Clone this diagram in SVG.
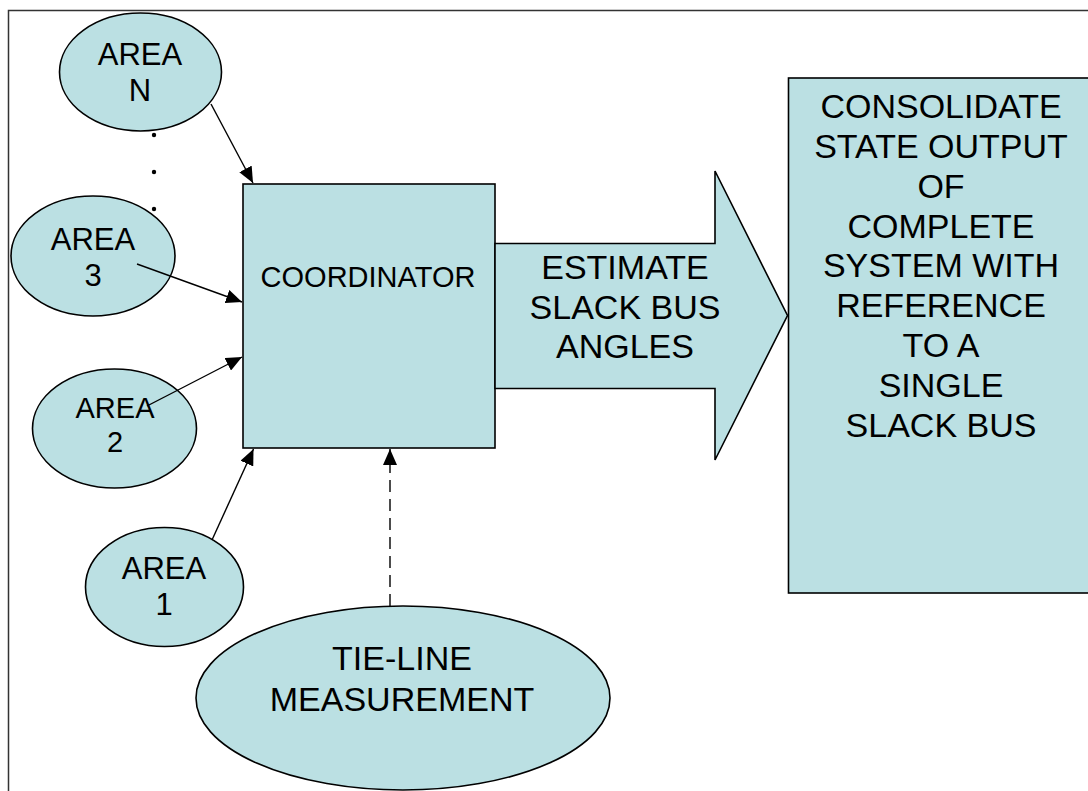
<svg xmlns="http://www.w3.org/2000/svg" width="1088" height="791" viewBox="0 0 1088 791">
<style>
.shape{fill:#BBE0E3;stroke:#000;stroke-width:1.6}
.t{font-family:"Liberation Sans",Arial,sans-serif;fill:#000;text-anchor:middle}
.big{font-size:34px}
.area{font-size:31px}
.conn{stroke:#000;stroke-width:1.4;fill:none}
</style>
<defs>
<marker id="ah" viewBox="0 0 10 10" refX="10" refY="5" markerWidth="10" markerHeight="10" markerUnits="userSpaceOnUse" orient="auto">
<path d="M0,0 L10,5 L0,10 z" fill="#000"/>
</marker>
<marker id="ah2" viewBox="0 0 16 14" refX="16" refY="7" markerWidth="16" markerHeight="14" markerUnits="userSpaceOnUse" orient="auto">
<path d="M0,0 L16,7 L0,14 z" fill="#000"/>
</marker>
</defs>
<rect width="1088" height="791" fill="#fff"/>
<rect x="8.5" y="10.5" width="1100" height="800" fill="none" stroke="#333" stroke-width="1.5"/>

<g id="areaN">
<ellipse class="shape" cx="140.5" cy="72" rx="81" ry="59"/>
<text class="t area" x="140" y="65">AREA</text>
<text class="t area" x="140" y="101">N</text>
</g>
<g id="dots">
<circle cx="154" cy="135" r="2.2" fill="#000"/>
<circle cx="154" cy="172" r="2.2" fill="#000"/>
<circle cx="154" cy="209" r="2.2" fill="#000"/>
</g>
<g id="area3">
<ellipse class="shape" cx="93" cy="256" rx="82" ry="60"/>
<text class="t area" x="93" y="250">AREA</text>
<text class="t area" x="93" y="286">3</text>
</g>
<g id="area2">
<ellipse class="shape" cx="114.5" cy="428.5" rx="82" ry="59.5"/>
<text class="t area" x="115" y="418" style="font-size:29px">AREA</text>
<text class="t area" x="115" y="452" style="font-size:29px">2</text>
</g>
<g id="area1">
<ellipse class="shape" cx="164.5" cy="587" rx="79" ry="59.5"/>
<text class="t area" x="164" y="579">AREA</text>
<text class="t area" x="164" y="615">1</text>
</g>
<g id="tieline">
<ellipse class="shape" cx="403" cy="698" rx="207" ry="92"/>
<text class="t big" x="402" y="670">TIE-LINE</text>
<text class="t big" x="402" y="711">MEASUREMENT</text>
</g>
<g id="coordinator">
<rect class="shape" x="243" y="184" width="252" height="264"/>
<text class="t" x="368" y="287" style="font-size:29px">COORDINATOR</text>
</g>
<g id="bigarrow">
<path class="shape" d="M495,243.5 L715,243.5 L715,171 L787.5,315.5 L715,460 L715,388.5 L495,388.5 Z"/>
<text class="t big" x="625" y="279">ESTIMATE</text>
<text class="t big" x="625" y="319">SLACK BUS</text>
<text class="t big" x="625" y="358">ANGLES</text>
</g>
<g id="consolidate">
<rect class="shape" x="788.5" y="78" width="306" height="515"/>
<text class="t big" x="941" y="118">CONSOLIDATE</text>
<text class="t big" x="941" y="158">STATE OUTPUT</text>
<text class="t big" x="941" y="198">OF</text>
<text class="t big" x="941" y="238">COMPLETE</text>
<text class="t big" x="941" y="277">SYSTEM WITH</text>
<text class="t big" x="941" y="317">REFERENCE</text>
<text class="t big" x="941" y="357">TO A</text>
<text class="t big" x="941" y="397">SINGLE</text>
<text class="t big" x="941" y="437">SLACK BUS</text>
</g>
<g id="connectors">
<line class="conn" x1="211" y1="104" x2="253" y2="183" marker-end="url(#ah2)"/>
<line class="conn" x1="137" y1="264" x2="242" y2="302" marker-end="url(#ah2)"/>
<line class="conn" x1="147" y1="406" x2="242" y2="357" marker-end="url(#ah2)"/>
<line class="conn" x1="212" y1="540" x2="253.5" y2="449" marker-end="url(#ah2)"/>
<line class="conn" x1="390" y1="606" x2="390" y2="449" stroke-dasharray="12,7" marker-end="url(#ah2)"/>
</g>
</svg>
